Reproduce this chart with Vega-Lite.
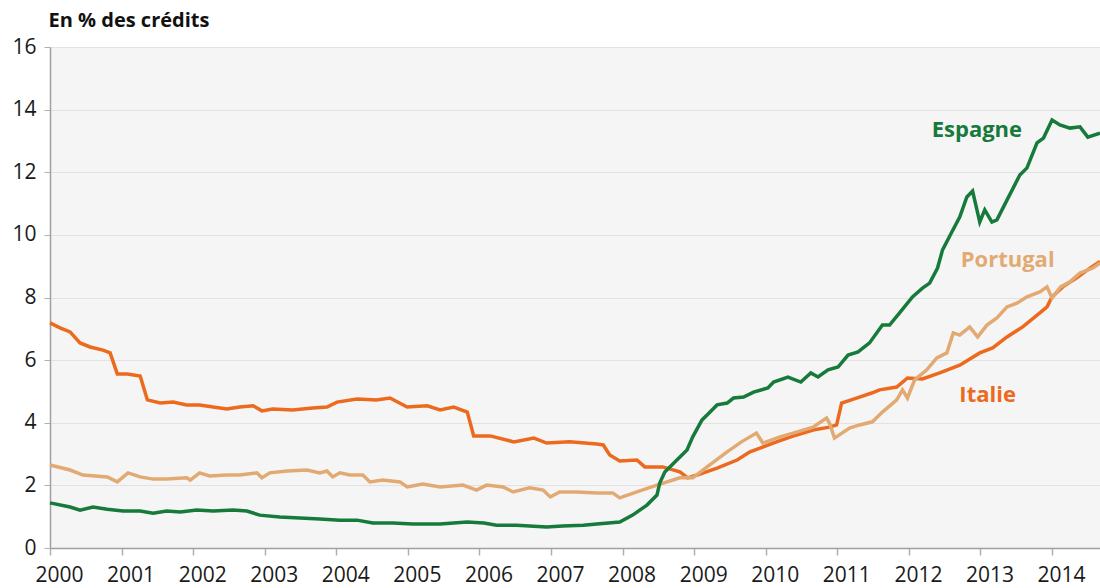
{
  "$schema": "https://vega.github.io/schema/vega-lite/v6.json",
  "width": 1050,
  "height": 501,
  "autosize": "none",
  "padding": {"left": 50, "top": 47, "right": 0, "bottom": 40},
  "background": "white",
  "config": {
    "view": {"fill": "#f5f5f5", "stroke": null},
    "font": "Open Sans"
  },
  "datasets": {
    "series": [
      {"pays":"Italie","t":2000.00,"v":7.19},{"pays":"Italie","t":2000.14,"v":7.03},{"pays":"Italie","t":2000.28,"v":6.90},{"pays":"Italie","t":2000.42,"v":6.55},{"pays":"Italie","t":2000.56,"v":6.42},{"pays":"Italie","t":2000.74,"v":6.32},{"pays":"Italie","t":2000.84,"v":6.23},{"pays":"Italie","t":2000.94,"v":5.56},{"pays":"Italie","t":2001.08,"v":5.56},{"pays":"Italie","t":2001.26,"v":5.49},{"pays":"Italie","t":2001.36,"v":4.73},{"pays":"Italie","t":2001.54,"v":4.63},{"pays":"Italie","t":2001.72,"v":4.66},{"pays":"Italie","t":2001.91,"v":4.57},{"pays":"Italie","t":2002.09,"v":4.57},{"pays":"Italie","t":2002.28,"v":4.50},{"pays":"Italie","t":2002.47,"v":4.44},{"pays":"Italie","t":2002.65,"v":4.50},{"pays":"Italie","t":2002.84,"v":4.54},{"pays":"Italie","t":2002.96,"v":4.38},{"pays":"Italie","t":2003.11,"v":4.44},{"pays":"Italie","t":2003.39,"v":4.41},{"pays":"Italie","t":2003.67,"v":4.47},{"pays":"Italie","t":2003.87,"v":4.50},{"pays":"Italie","t":2004.01,"v":4.66},{"pays":"Italie","t":2004.29,"v":4.76},{"pays":"Italie","t":2004.56,"v":4.73},{"pays":"Italie","t":2004.75,"v":4.79},{"pays":"Italie","t":2004.99,"v":4.50},{"pays":"Italie","t":2005.27,"v":4.54},{"pays":"Italie","t":2005.45,"v":4.41},{"pays":"Italie","t":2005.64,"v":4.50},{"pays":"Italie","t":2005.83,"v":4.34},{"pays":"Italie","t":2005.92,"v":3.58},{"pays":"Italie","t":2006.15,"v":3.58},{"pays":"Italie","t":2006.48,"v":3.39},{"pays":"Italie","t":2006.76,"v":3.51},{"pays":"Italie","t":2006.94,"v":3.35},{"pays":"Italie","t":2007.26,"v":3.39},{"pays":"Italie","t":2007.64,"v":3.32},{"pays":"Italie","t":2007.73,"v":3.29},{"pays":"Italie","t":2007.82,"v":2.97},{"pays":"Italie","t":2007.96,"v":2.78},{"pays":"Italie","t":2008.20,"v":2.81},{"pays":"Italie","t":2008.31,"v":2.59},{"pays":"Italie","t":2008.56,"v":2.59},{"pays":"Italie","t":2008.80,"v":2.43},{"pays":"Italie","t":2008.91,"v":2.24},{"pays":"Italie","t":2009.04,"v":2.33},{"pays":"Italie","t":2009.32,"v":2.55},{"pays":"Italie","t":2009.60,"v":2.81},{"pays":"Italie","t":2009.78,"v":3.07},{"pays":"Italie","t":2009.92,"v":3.19},{"pays":"Italie","t":2010.15,"v":3.39},{"pays":"Italie","t":2010.43,"v":3.61},{"pays":"Italie","t":2010.66,"v":3.77},{"pays":"Italie","t":2010.89,"v":3.86},{"pays":"Italie","t":2010.99,"v":3.93},{"pays":"Italie","t":2011.06,"v":4.63},{"pays":"Italie","t":2011.31,"v":4.82},{"pays":"Italie","t":2011.48,"v":4.95},{"pays":"Italie","t":2011.59,"v":5.05},{"pays":"Italie","t":2011.83,"v":5.14},{"pays":"Italie","t":2011.98,"v":5.43},{"pays":"Italie","t":2012.19,"v":5.40},{"pays":"Italie","t":2012.43,"v":5.59},{"pays":"Italie","t":2012.71,"v":5.84},{"pays":"Italie","t":2012.99,"v":6.23},{"pays":"Italie","t":2013.17,"v":6.39},{"pays":"Italie","t":2013.37,"v":6.74},{"pays":"Italie","t":2013.59,"v":7.06},{"pays":"Italie","t":2013.83,"v":7.51},{"pays":"Italie","t":2013.93,"v":7.70},{"pays":"Italie","t":2014.00,"v":8.02},{"pays":"Italie","t":2014.15,"v":8.34},{"pays":"Italie","t":2014.34,"v":8.62},{"pays":"Italie","t":2014.53,"v":8.94},{"pays":"Italie","t":2014.67,"v":9.15},

      {"pays":"Portugal","t":2000.00,"v":2.65},{"pays":"Portugal","t":2000.28,"v":2.49},{"pays":"Portugal","t":2000.46,"v":2.33},{"pays":"Portugal","t":2000.80,"v":2.27},{"pays":"Portugal","t":2000.94,"v":2.11},{"pays":"Portugal","t":2001.09,"v":2.40},{"pays":"Portugal","t":2001.26,"v":2.27},{"pays":"Portugal","t":2001.44,"v":2.20},{"pays":"Portugal","t":2001.63,"v":2.20},{"pays":"Portugal","t":2001.91,"v":2.24},{"pays":"Portugal","t":2001.96,"v":2.17},{"pays":"Portugal","t":2002.09,"v":2.40},{"pays":"Portugal","t":2002.23,"v":2.30},{"pays":"Portugal","t":2002.47,"v":2.33},{"pays":"Portugal","t":2002.65,"v":2.33},{"pays":"Portugal","t":2002.89,"v":2.40},{"pays":"Portugal","t":2002.96,"v":2.24},{"pays":"Portugal","t":2003.07,"v":2.40},{"pays":"Portugal","t":2003.31,"v":2.46},{"pays":"Portugal","t":2003.59,"v":2.49},{"pays":"Portugal","t":2003.77,"v":2.40},{"pays":"Portugal","t":2003.87,"v":2.46},{"pays":"Portugal","t":2003.95,"v":2.27},{"pays":"Portugal","t":2004.05,"v":2.40},{"pays":"Portugal","t":2004.19,"v":2.33},{"pays":"Portugal","t":2004.37,"v":2.33},{"pays":"Portugal","t":2004.47,"v":2.11},{"pays":"Portugal","t":2004.65,"v":2.17},{"pays":"Portugal","t":2004.89,"v":2.11},{"pays":"Portugal","t":2004.99,"v":1.95},{"pays":"Portugal","t":2005.21,"v":2.04},{"pays":"Portugal","t":2005.45,"v":1.95},{"pays":"Portugal","t":2005.77,"v":2.01},{"pays":"Portugal","t":2005.96,"v":1.85},{"pays":"Portugal","t":2006.10,"v":2.01},{"pays":"Portugal","t":2006.33,"v":1.95},{"pays":"Portugal","t":2006.47,"v":1.79},{"pays":"Portugal","t":2006.70,"v":1.92},{"pays":"Portugal","t":2006.89,"v":1.85},{"pays":"Portugal","t":2006.99,"v":1.63},{"pays":"Portugal","t":2007.12,"v":1.79},{"pays":"Portugal","t":2007.36,"v":1.79},{"pays":"Portugal","t":2007.64,"v":1.76},{"pays":"Portugal","t":2007.86,"v":1.76},{"pays":"Portugal","t":2007.96,"v":1.60},{"pays":"Portugal","t":2008.20,"v":1.79},{"pays":"Portugal","t":2008.48,"v":2.01},{"pays":"Portugal","t":2008.80,"v":2.24},{"pays":"Portugal","t":2008.98,"v":2.24},{"pays":"Portugal","t":2009.18,"v":2.59},{"pays":"Portugal","t":2009.46,"v":3.07},{"pays":"Portugal","t":2009.66,"v":3.39},{"pays":"Portugal","t":2009.87,"v":3.67},{"pays":"Portugal","t":2009.96,"v":3.35},{"pays":"Portugal","t":2010.20,"v":3.55},{"pays":"Portugal","t":2010.43,"v":3.70},{"pays":"Portugal","t":2010.66,"v":3.86},{"pays":"Portugal","t":2010.85,"v":4.15},{"pays":"Portugal","t":2010.89,"v":3.99},{"pays":"Portugal","t":2010.96,"v":3.51},{"pays":"Portugal","t":2011.17,"v":3.83},{"pays":"Portugal","t":2011.31,"v":3.93},{"pays":"Portugal","t":2011.49,"v":4.03},{"pays":"Portugal","t":2011.63,"v":4.34},{"pays":"Portugal","t":2011.83,"v":4.73},{"pays":"Portugal","t":2011.91,"v":5.05},{"pays":"Portugal","t":2011.98,"v":4.79},{"pays":"Portugal","t":2012.08,"v":5.37},{"pays":"Portugal","t":2012.25,"v":5.69},{"pays":"Portugal","t":2012.39,"v":6.07},{"pays":"Portugal","t":2012.53,"v":6.23},{"pays":"Portugal","t":2012.62,"v":6.87},{"pays":"Portugal","t":2012.71,"v":6.80},{"pays":"Portugal","t":2012.85,"v":7.06},{"pays":"Portugal","t":2012.96,"v":6.74},{"pays":"Portugal","t":2013.09,"v":7.12},{"pays":"Portugal","t":2013.23,"v":7.35},{"pays":"Portugal","t":2013.37,"v":7.70},{"pays":"Portugal","t":2013.51,"v":7.82},{"pays":"Portugal","t":2013.65,"v":8.02},{"pays":"Portugal","t":2013.83,"v":8.18},{"pays":"Portugal","t":2013.93,"v":8.34},{"pays":"Portugal","t":2014.00,"v":7.98},{"pays":"Portugal","t":2014.12,"v":8.34},{"pays":"Portugal","t":2014.25,"v":8.50},{"pays":"Portugal","t":2014.39,"v":8.78},{"pays":"Portugal","t":2014.57,"v":8.94},{"pays":"Portugal","t":2014.67,"v":9.10},

      {"pays":"Espagne","t":2000.00,"v":1.44},{"pays":"Espagne","t":2000.28,"v":1.31},{"pays":"Espagne","t":2000.42,"v":1.21},{"pays":"Espagne","t":2000.60,"v":1.31},{"pays":"Espagne","t":2000.80,"v":1.24},{"pays":"Espagne","t":2001.02,"v":1.18},{"pays":"Espagne","t":2001.26,"v":1.18},{"pays":"Espagne","t":2001.44,"v":1.11},{"pays":"Espagne","t":2001.63,"v":1.18},{"pays":"Espagne","t":2001.82,"v":1.15},{"pays":"Espagne","t":2002.05,"v":1.21},{"pays":"Espagne","t":2002.28,"v":1.18},{"pays":"Espagne","t":2002.56,"v":1.21},{"pays":"Espagne","t":2002.75,"v":1.18},{"pays":"Espagne","t":2002.93,"v":1.05},{"pays":"Espagne","t":2003.21,"v":0.99},{"pays":"Espagne","t":2003.49,"v":0.96},{"pays":"Espagne","t":2003.77,"v":0.93},{"pays":"Espagne","t":2004.05,"v":0.89},{"pays":"Espagne","t":2004.29,"v":0.89},{"pays":"Espagne","t":2004.51,"v":0.80},{"pays":"Espagne","t":2004.79,"v":0.80},{"pays":"Espagne","t":2005.07,"v":0.77},{"pays":"Espagne","t":2005.45,"v":0.77},{"pays":"Espagne","t":2005.64,"v":0.80},{"pays":"Espagne","t":2005.83,"v":0.83},{"pays":"Espagne","t":2006.06,"v":0.80},{"pays":"Espagne","t":2006.24,"v":0.73},{"pays":"Espagne","t":2006.52,"v":0.73},{"pays":"Espagne","t":2006.94,"v":0.67},{"pays":"Espagne","t":2007.16,"v":0.70},{"pays":"Espagne","t":2007.45,"v":0.73},{"pays":"Espagne","t":2007.64,"v":0.77},{"pays":"Espagne","t":2007.96,"v":0.83},{"pays":"Espagne","t":2008.14,"v":1.05},{"pays":"Espagne","t":2008.34,"v":1.37},{"pays":"Espagne","t":2008.48,"v":1.69},{"pays":"Espagne","t":2008.52,"v":2.08},{"pays":"Espagne","t":2008.59,"v":2.43},{"pays":"Espagne","t":2008.73,"v":2.75},{"pays":"Espagne","t":2008.90,"v":3.13},{"pays":"Espagne","t":2008.98,"v":3.55},{"pays":"Espagne","t":2009.11,"v":4.09},{"pays":"Espagne","t":2009.18,"v":4.25},{"pays":"Espagne","t":2009.32,"v":4.57},{"pays":"Espagne","t":2009.46,"v":4.63},{"pays":"Espagne","t":2009.55,"v":4.79},{"pays":"Espagne","t":2009.69,"v":4.82},{"pays":"Espagne","t":2009.83,"v":4.98},{"pays":"Espagne","t":2010.03,"v":5.11},{"pays":"Espagne","t":2010.11,"v":5.30},{"pays":"Espagne","t":2010.31,"v":5.46},{"pays":"Espagne","t":2010.49,"v":5.30},{"pays":"Espagne","t":2010.63,"v":5.59},{"pays":"Espagne","t":2010.73,"v":5.46},{"pays":"Espagne","t":2010.87,"v":5.69},{"pays":"Espagne","t":2011.01,"v":5.78},{"pays":"Espagne","t":2011.15,"v":6.16},{"pays":"Espagne","t":2011.29,"v":6.26},{"pays":"Espagne","t":2011.45,"v":6.55},{"pays":"Espagne","t":2011.63,"v":7.12},{"pays":"Espagne","t":2011.73,"v":7.12},{"pays":"Espagne","t":2011.87,"v":7.51},{"pays":"Espagne","t":2012.05,"v":8.02},{"pays":"Espagne","t":2012.19,"v":8.30},{"pays":"Espagne","t":2012.29,"v":8.46},{"pays":"Espagne","t":2012.40,"v":8.94},{"pays":"Espagne","t":2012.47,"v":9.52},{"pays":"Espagne","t":2012.60,"v":10.09},{"pays":"Espagne","t":2012.71,"v":10.57},{"pays":"Espagne","t":2012.81,"v":11.21},{"pays":"Espagne","t":2012.89,"v":11.40},{"pays":"Espagne","t":2012.99,"v":10.41},{"pays":"Espagne","t":2013.06,"v":10.80},{"pays":"Espagne","t":2013.16,"v":10.41},{"pays":"Espagne","t":2013.23,"v":10.48},{"pays":"Espagne","t":2013.37,"v":11.11},{"pays":"Espagne","t":2013.55,"v":11.91},{"pays":"Espagne","t":2013.65,"v":12.14},{"pays":"Espagne","t":2013.79,"v":12.94},{"pays":"Espagne","t":2013.88,"v":13.09},{"pays":"Espagne","t":2014.00,"v":13.67},{"pays":"Espagne","t":2014.11,"v":13.51},{"pays":"Espagne","t":2014.25,"v":13.41},{"pays":"Espagne","t":2014.39,"v":13.45},{"pays":"Espagne","t":2014.50,"v":13.12},{"pays":"Espagne","t":2014.67,"v":13.25}
    ],
    "labels": [
      {"pays":"Espagne","t":2012.95,"v":13.35},
      {"pays":"Portugal","t":2013.38,"v":9.2},
      {"pays":"Italie","t":2013.1,"v":4.89}
    ]
  },
  "layer": [
    {
      "data": {"name": "series"},
      "mark": {"type": "line", "strokeWidth": 3.5, "interpolate": "linear"},
      "encoding": {
        "x": {
          "field": "t", "type": "quantitative",
          "scale": {"domain": [2000, 2014.67], "nice": false, "zero": false},
          "axis": {
            "values": [2000,2001,2002,2003,2004,2005,2006,2007,2008,2009,2010,2011,2012,2013,2014],
            "format": "d", "title": null, "grid": false,
            "domainColor": "#a0a0a0", "domainWidth": 1.5,
            "tickColor": "#b0b0b0", "tickSize": 7, "tickWidth": 1.5,
            "labelFontSize": 21, "labelColor": "#1a1a1a", "labelPadding": 9,
            "labelOffset": 9, "labelFlush": false
          }
        },
        "y": {
          "field": "v", "type": "quantitative",
          "scale": {"domain": [0, 16], "nice": false},
          "axis": {
            "values": [0,2,4,6,8,10,12,14,16],
            "title": "En % des crédits",
            "titleAngle": 0, "titleAlign": "left", "titleBaseline": "alphabetic",
            "titleX": -2, "titleY": -21, "titleFontSize": 20, "titleFontWeight": "bold", "titleColor": "#111",
            "grid": true, "gridColor": "#e2e2e2", "gridWidth": 1.2,
            "domainColor": "#a0a0a0", "domainWidth": 1.5,
            "tickColor": "#b0b0b0", "tickSize": 6, "tickWidth": 1,
            "labelFontSize": 21, "labelColor": "#1a1a1a", "labelPadding": 8
          }
        },
        "color": {
          "field": "pays", "type": "nominal",
          "scale": {"domain": ["Espagne","Portugal","Italie"], "range": ["#167a3a","#e2aa72","#ec6a1e"]},
          "legend": null
        },
        "detail": {"field": "pays"}
      }
    },
    {
      "data": {"name": "labels"},
      "mark": {"type": "text", "fontSize": 22, "fontWeight": "bold", "align": "center", "baseline": "middle"},
      "encoding": {
        "x": {"field": "t", "type": "quantitative"},
        "y": {"field": "v", "type": "quantitative"},
        "text": {"field": "pays"},
        "color": {"field": "pays", "type": "nominal", "legend": null}
      }
    }
  ]
}
